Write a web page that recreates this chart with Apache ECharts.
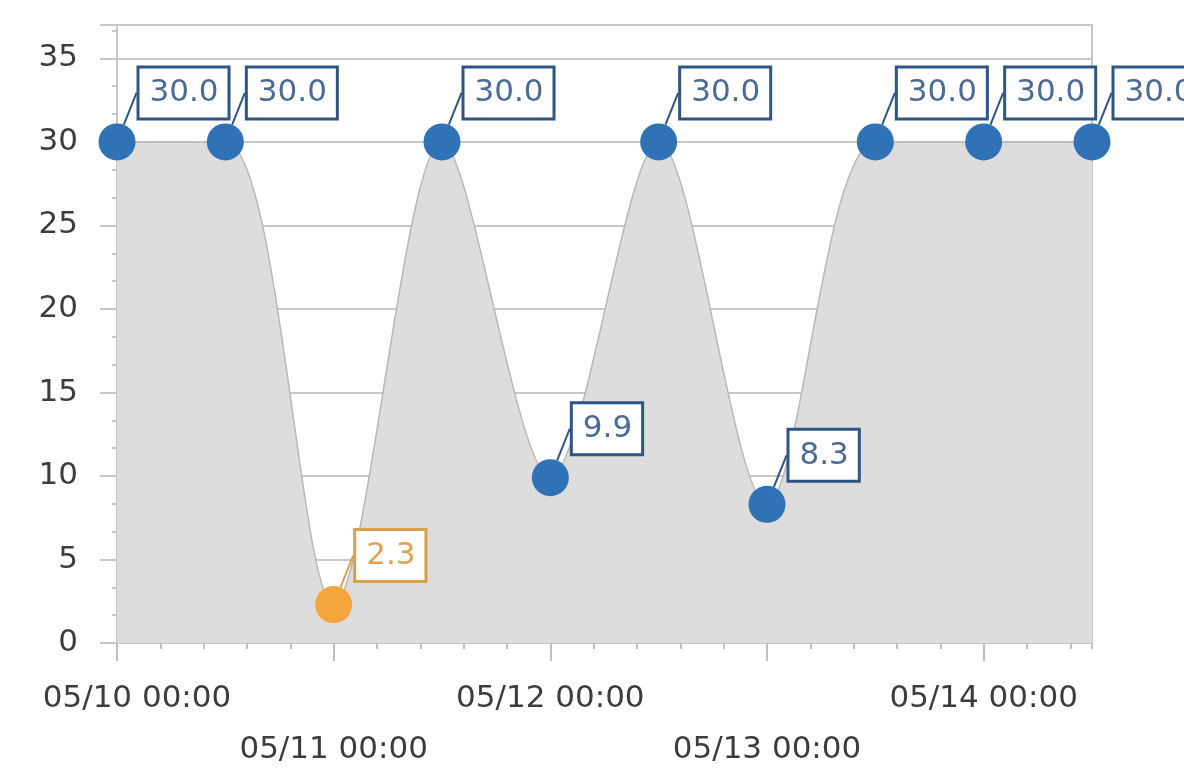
<!DOCTYPE html>
<html>
<head>
<meta charset="utf-8">
<script src="https://cdn.jsdelivr.net/npm/echarts@6/dist/echarts.min.js"></script>
<style>
    html, body { margin: 0; padding: 0; background: #fff; }
    #level_chart { width: 1184px; height: 779px; }
</style>
</head>
<body>
<div id="level_chart"></div>
<script type="text/javascript">

    // readings every 12 hours
    var times = ['05/10 00:00', '05/10 12:00', '05/11 00:00', '05/11 12:00', '05/12 00:00',
                 '05/12 12:00', '05/13 00:00', '05/13 12:00', '05/14 00:00', '05/14 12:00'];
    var values = [30.0, 30.0, 2.3, 30.0, 9.9, 30.0, 8.3, 30.0, 30.0, 30.0];
    var xTickLabels = ['05/10 00:00', '05/11 00:00', '05/12 00:00', '05/13 00:00', '05/14 00:00'];
    var yTickLabels = [0, 5, 10, 15, 20, 25, 30, 35];
    var lowLimit = 5;

    var DAY = 86400000;
    var FONT = 'DejaVu Sans';
    var BLUE = '#2f72b6';
    var ORANGE = '#f4a63c';

    function toMs(s) {
        var p = s.split(/[\/ :]/);
        return Date.UTC(2000, +p[0] - 1, +p[1], +p[2], +p[3]);
    }
    function pad(n) { return (n < 10 ? '0' : '') + n; }
    function fmt(v) {
        var d = new Date(v);
        return pad(d.getUTCMonth() + 1) + '/' + pad(d.getUTCDate()) + ' ' +
               pad(d.getUTCHours()) + ':' + pad(d.getUTCMinutes());
    }

    var t0 = toMs(times[0]);
    var tMax = toMs(times[times.length - 1]);
    var dayTicks = xTickLabels.map(toMs);

    var seriesData = values.map(function (v, i) {
        var low = v < lowLimit;
        return {
            value: [toMs(times[i]), v],
            itemStyle: { color: low ? ORANGE : BLUE },
            label: low ? { color: '#e2a04e', borderColor: '#d9a04a' } : {},
            labelLine: { lineStyle: { color: low ? '#d9a04a' : '#2f5584' } }
        };
    });

    var labelText = { fontFamily: FONT, fontSize: 31, color: '#3c3c3c', lineHeight: 51 };

    var chart = echarts.init(document.getElementById('level_chart'));
    chart.setOption({
        animation: false,
        grid: {
            left: 117, right: 92, top: 25, bottom: 136,
            outerBoundsMode: 'none',
            show: true, backgroundColor: '#fff',
            borderColor: '#c6c6c6', borderWidth: 2
        },
        xAxis: [{
            type: 'value',
            min: t0, max: tMax, interval: DAY,
            axisLine: { lineStyle: { color: '#c6c6c6', width: 2 } },
            axisTick: { length: 18, lineStyle: { color: '#c0c0c0', width: 2 }, customValues: dayTicks },
            axisLabel: {
                customValues: dayTicks,
                fontFamily: FONT, fontSize: 31, color: '#3c3c3c',
                lineHeight: 51, margin: 30,
                formatter: function (v) {
                    var k = Math.round((v - t0) / DAY);
                    if (k === 0) return '{first|' + fmt(v) + '}';
                    return (k % 2 ? '\n' : '') + fmt(v);
                },
                rich: {
                    first: Object.assign({ padding: [0, 0, 0, 40] }, labelText)
                }
            },
            splitLine: { show: false }
        }, {
            type: 'value',
            position: 'bottom',
            min: t0, max: tMax, interval: DAY / 5,
            axisLine: { show: false },
            axisTick: { length: 6, lineStyle: { color: '#c0c0c0', width: 2 } },
            axisLabel: { show: false },
            splitLine: { show: false }
        }],
        yAxis: {
            type: 'value',
            min: 0, max: 37, interval: 5,
            axisLine: { show: true, lineStyle: { color: '#c6c6c6', width: 2 } },
            axisTick: { show: true, length: 17, lineStyle: { color: '#c6c6c6', width: 2 } },
            minorTick: { show: true, splitNumber: 3, length: 5, lineStyle: { color: '#c6c6c6', width: 2 } },
            axisLabel: {
                fontFamily: FONT, fontSize: 31, color: '#3c3c3c', margin: 39,
                showMaxLabel: false,
                formatter: function (v) { return yTickLabels.indexOf(v) >= 0 ? String(v) : ''; }
            },
            splitLine: { lineStyle: { color: '#c8c8c8', width: 2 } }
        },
        series: [{
            type: 'line',
            xAxisIndex: 0,
            data: seriesData,
            smooth: 0.3,
            symbol: 'circle',
            symbolSize: 37,
            lineStyle: { color: '#b8b8b8', width: 1.5 },
            areaStyle: { color: '#dddddd', opacity: 1 },
            label: {
                show: true,
                position: [41, -6],
                align: 'left',
                verticalAlign: 'bottom',
                formatter: function (p) { return p.value[1].toFixed(1); },
                fontFamily: FONT, fontSize: 31, lineHeight: 38,
                color: '#4b6a95',
                backgroundColor: '#fff',
                borderColor: '#2f5584', borderWidth: 3,
                padding: [6, 9, 5, 10]
            },
            labelLine: { show: true, lineStyle: { width: 2 } },
            z: 3
        }]
    });

</script>
</body>
</html>
